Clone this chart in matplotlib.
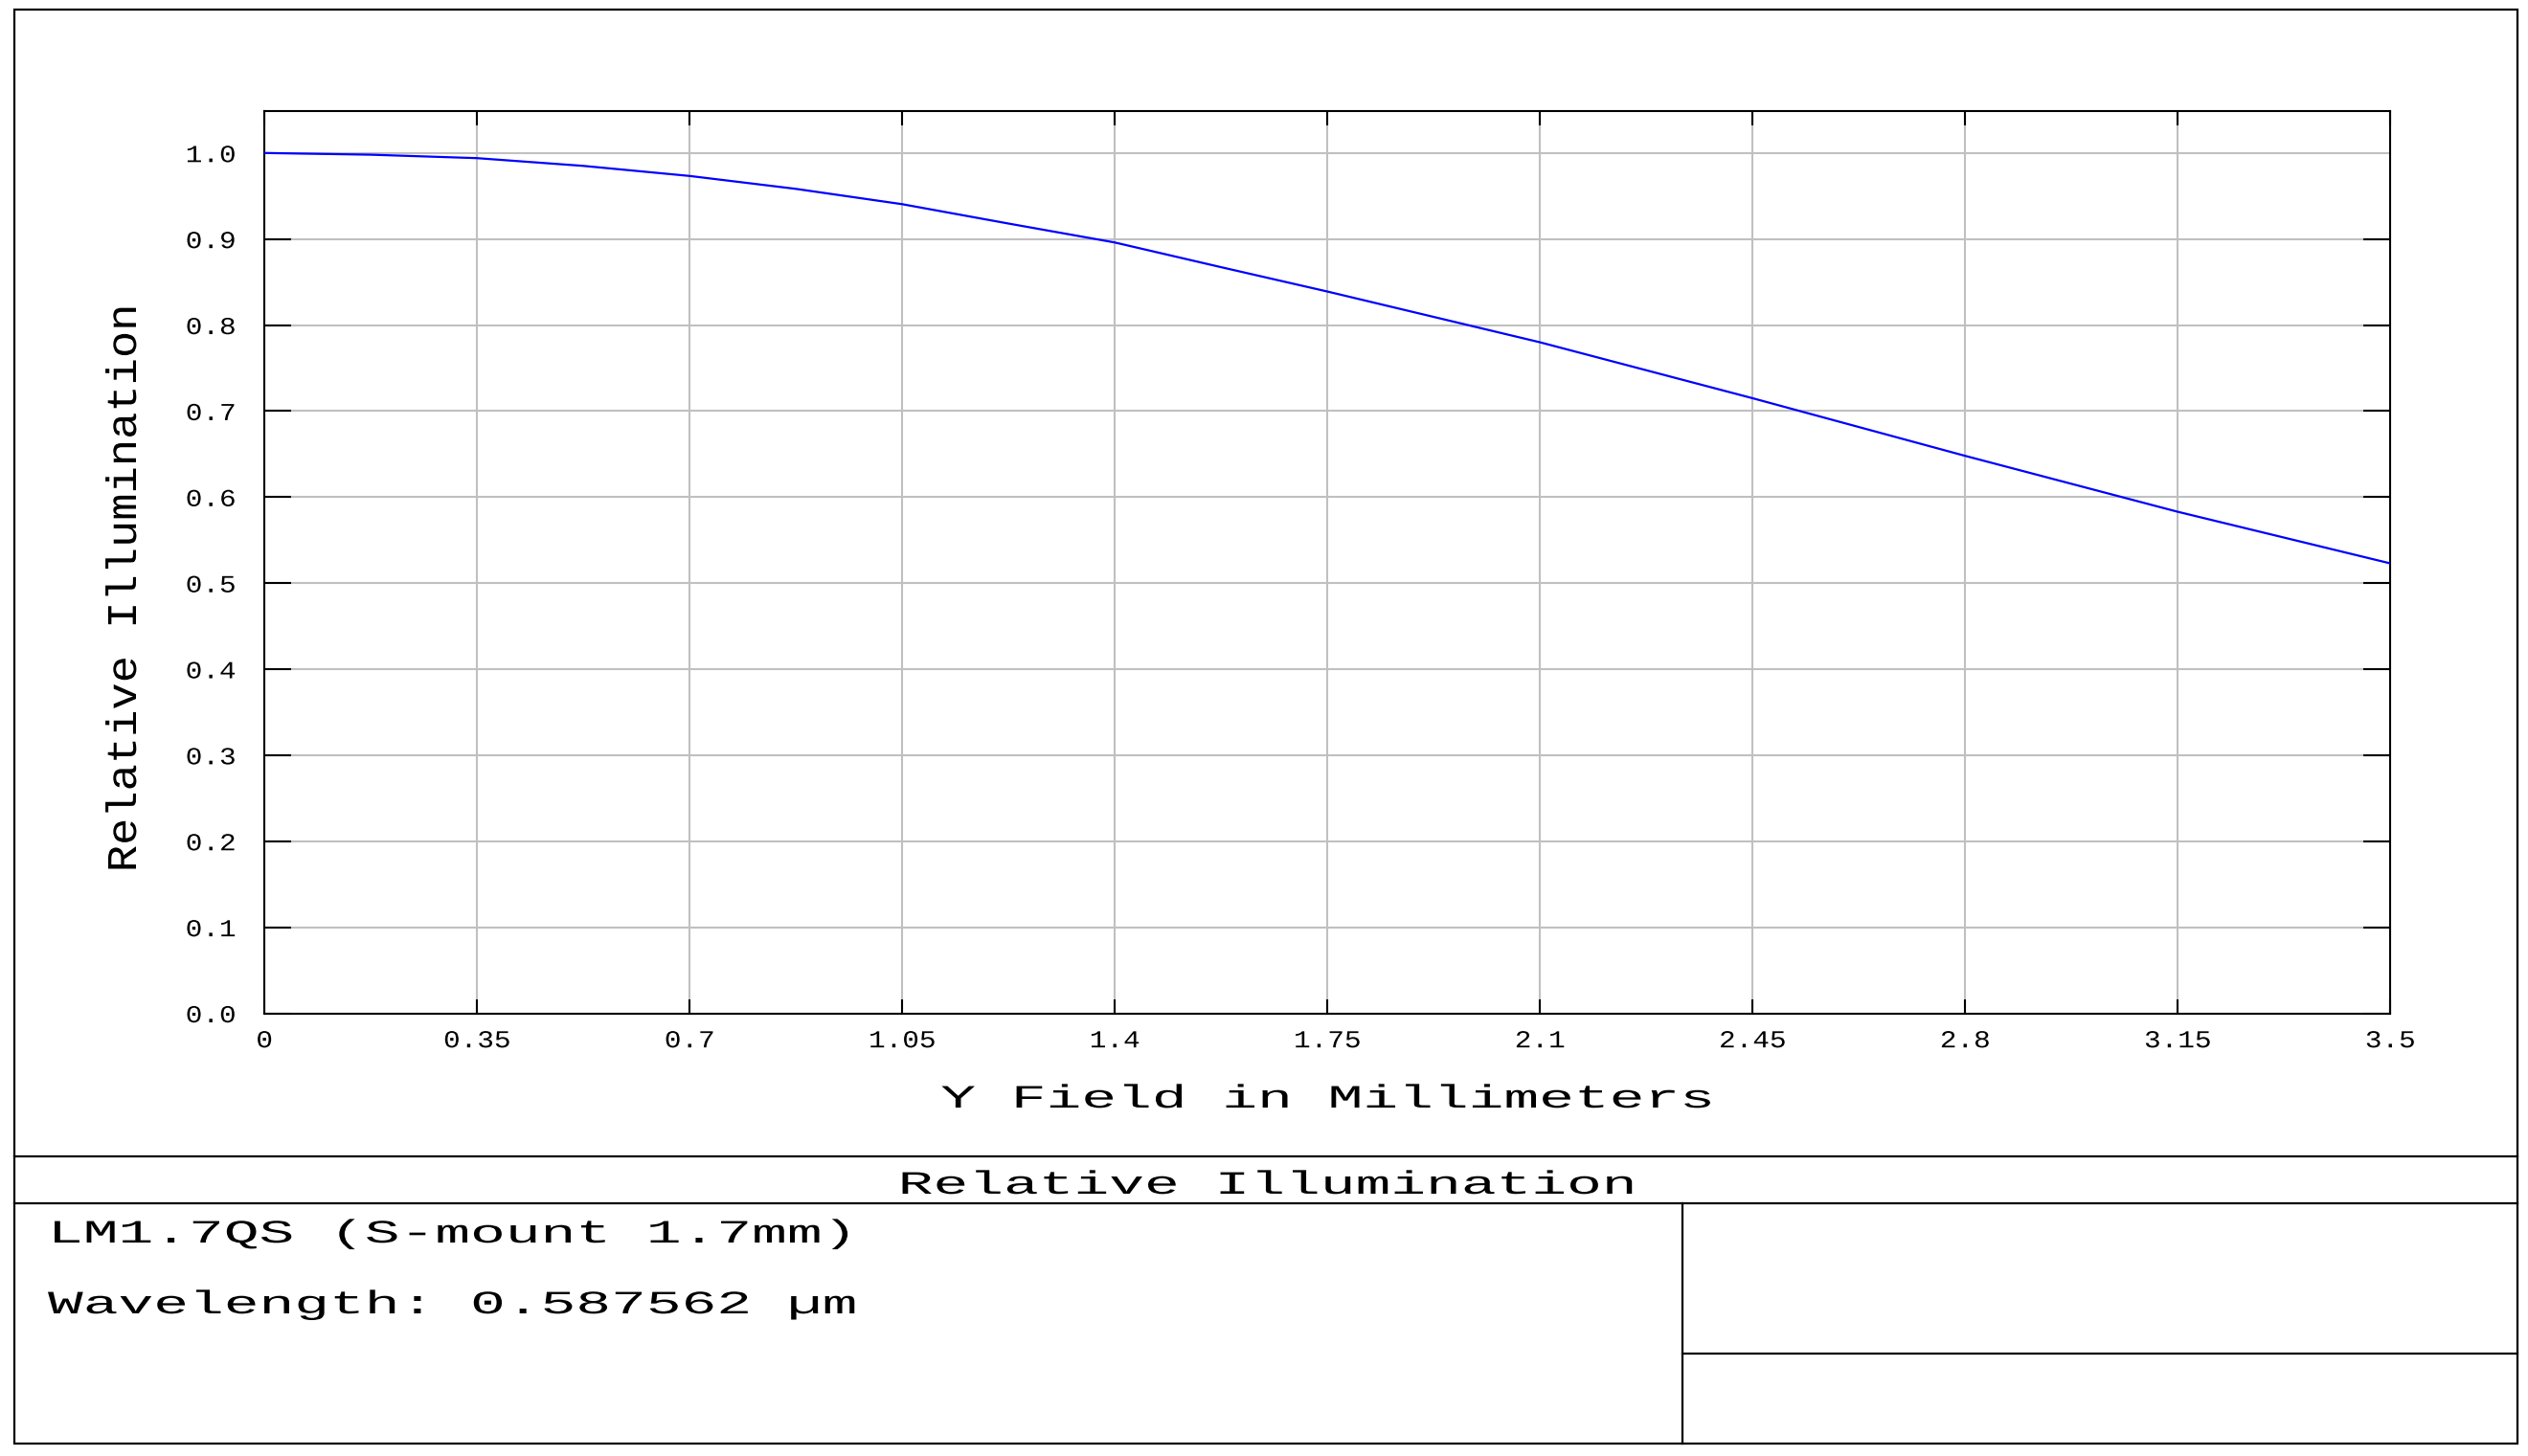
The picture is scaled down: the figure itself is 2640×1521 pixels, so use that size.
import matplotlib

matplotlib.use("Agg")
import matplotlib.pyplot as plt
from matplotlib import patheffects
from matplotlib.lines import Line2D
from matplotlib.patches import Rectangle
from matplotlib.transforms import Affine2D

# values
field_mm = [0.0, 0.175, 0.35, 0.525, 0.7, 0.875, 1.05, 1.225, 1.4, 1.575, 1.75,
            2.1, 2.45, 2.8, 3.15, 3.5]
rel_illum = [1.000, 0.998, 0.994, 0.985, 0.9733, 0.9583, 0.9405, 0.918, 0.896, 0.8673, 0.839,
             0.780, 0.715, 0.648, 0.583, 0.523]

x_ticks = [0, 0.35, 0.7, 1.05, 1.4, 1.75, 2.1, 2.45, 2.8, 3.15, 3.5]
x_tick_labels = ["0", "0.35", "0.7", "1.05", "1.4", "1.75", "2.1", "2.45", "2.8", "3.15", "3.5"]
y_ticks = [0.0, 0.1, 0.2, 0.3, 0.4, 0.5, 0.6, 0.7, 0.8, 0.9, 1.0]
y_tick_labels = ["0.0", "0.1", "0.2", "0.3", "0.4", "0.5", "0.6", "0.7", "0.8", "0.9", "1.0"]

title = "Relative Illumination"
x_label = "Y Field in Millimeters"
y_label = "Relative Illumination"
lens_name = "LM1.7QS (S-mount 1.7mm)"
wavelength = "Wavelength: 0.587562 \u00b5m"

W, H = 2640, 1521
FONT = ["Liberation Mono", "DejaVu Sans Mono"]


class Stretch(patheffects.AbstractPathEffect):
    """Widen glyphs along the baseline (the old Courier look)."""

    def __init__(self, sx, anchor="center"):
        super().__init__()
        self.sx = sx
        self.anchor = anchor

    def draw_path(self, renderer, gc, tpath, affine, rgbFace=None):
        xs = tpath.vertices[:, 0]
        if len(xs) == 0:
            return
        if self.anchor == "left":
            x0 = 0.0
        elif self.anchor == "right":
            x0 = xs.max()
        else:
            x0 = 0.5 * (xs.min() + xs.max())
        pre = Affine2D().translate(-x0, 0).scale(self.sx, 1.0).translate(x0, 0)
        renderer.draw_path(gc, tpath, pre + affine, rgbFace)


def fx(px):
    return px / W


def fy(py):
    return 1.0 - py / H


fig = plt.figure(figsize=(W / 100, H / 100), dpi=100)
fig.patch.set_facecolor("white")

# plot area
ax_left, ax_right, ax_top, ax_bottom = 276, 2496, 116, 1058.5
ax = fig.add_axes([fx(ax_left), fy(ax_bottom), (ax_right - ax_left) / W, (ax_bottom - ax_top) / H])
ax.plot(field_mm, rel_illum, color="#0000ff", lw=1.6, zorder=3, solid_joinstyle="round")

ax.set_xlim(0, 3.5)
ax.set_ylim(0, (ax_bottom - ax_top) / 898.7)
ax.set_xticks(x_ticks)
ax.set_xticklabels(x_tick_labels, family=FONT, fontsize=18.4)
ax.set_yticks(y_ticks)
ax.set_yticklabels(y_tick_labels, family=FONT, fontsize=18.4)
ax.grid(True, color="#c0c0c0", lw=1.5, zorder=1)
ax.set_axisbelow(True)

ax.tick_params(axis="both", direction="in", width=1.5, color="black",
               top=True, right=True, labeltop=False, labelright=False)
ax.tick_params(axis="x", length=11, pad=12)
ax.tick_params(axis="y", length=20, pad=21.5)
for sp in ax.spines.values():
    sp.set_linewidth(1.5)
    sp.set_color("black")

for t in ax.xaxis.get_major_ticks():
    t.label1.set_path_effects([Stretch(1.15, "center")])
for t in ax.yaxis.get_major_ticks():
    t.label1.set_path_effects([Stretch(1.15, "right")])
# the 1.0 line has no tick marks in the original
top_tick = ax.yaxis.get_major_ticks()[-1]
top_tick.tick1line.set_visible(False)
top_tick.tick2line.set_visible(False)

# axis labels
fig.text(fx(1385), fy(1157), x_label, family=FONT, fontsize=24.5, ha="center", va="baseline",
         path_effects=[Stretch(1.8, "center")])
fig.text(fx(142), fy(615), y_label, family=FONT, fontsize=31.7, rotation=90,
         rotation_mode="anchor", ha="center", va="baseline",
         path_effects=[Stretch(1.07, "center")])

# frame and info boxes
lw_box = 1.6
fig.add_artist(Rectangle((fx(15), fy(1508)), fx(2629) - fx(15), fy(10) - fy(1508),
                         transform=fig.transFigure, fill=False, lw=lw_box, ec="black"))
for y in (1208, 1257):
    fig.add_artist(Line2D([fx(15), fx(2629)], [fy(y), fy(y)], transform=fig.transFigure,
                          lw=lw_box, color="black"))
fig.add_artist(Line2D([fx(1757), fx(1757)], [fy(1257), fy(1508)], transform=fig.transFigure,
                      lw=lw_box, color="black"))
fig.add_artist(Line2D([fx(1757), fx(2629)], [fy(1414), fy(1414)], transform=fig.transFigure,
                      lw=lw_box, color="black"))

fig.text(fx(1322), fy(1247), title, family=FONT, fontsize=24.5, ha="center", va="baseline",
         path_effects=[Stretch(1.8, "center")])
fig.text(fx(50), fy(1298), lens_name, family=FONT, fontsize=24.5, ha="left", va="baseline",
         path_effects=[Stretch(1.8, "left")])
fig.text(fx(50), fy(1372), wavelength, family=FONT, fontsize=24.5, ha="left", va="baseline",
         path_effects=[Stretch(1.8, "left")])

fig.savefig("out.png", dpi=100, facecolor="white")
